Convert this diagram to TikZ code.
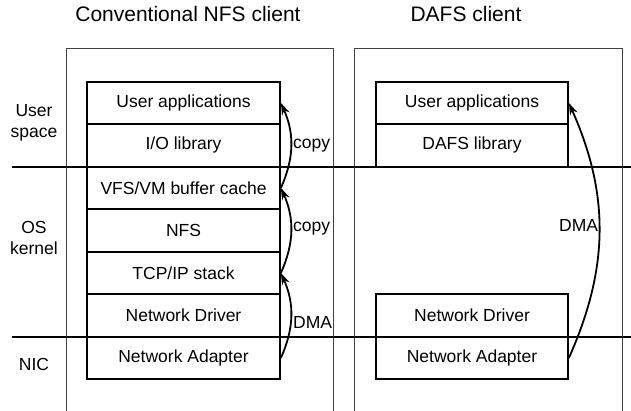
\documentclass[tikz,border=0pt]{standalone}
\usepackage{fontspec}
\setmainfont{Liberation Sans}
\usetikzlibrary{arrows.meta}
\begin{document}
\begin{tikzpicture}[x=1pt,y=-1pt,
  layer/.style={draw=black, line width=1.8pt, minimum width=193pt, minimum height=42.5pt,
    inner sep=0pt, font=\fontsize{17.5}{21}\selectfont},
  panel/.style={draw=black!75, line width=0.9pt},
  sep/.style={draw=black, line width=2pt},
  side/.style={font=\fontsize{17.5}{21}\selectfont, align=center, inner sep=0pt},
  head/.style={font=\fontsize{21}{25}\selectfont, inner sep=0pt, anchor=base},
  lbl/.style={font=\fontsize{17.5}{21}\selectfont, inner sep=0pt, anchor=base west},
  arr/.style={line width=1.8pt, -{Stealth[length=12pt,width=8pt]}}]
\useasboundingbox (0,0) rectangle (631,411);
\fill[white] (0,0) rectangle (631,411);
% panels
\draw[panel] (66,412) -- (66,48) -- (333,48) -- (333,412);
\draw[panel] (354,412) -- (354,48) -- (622,48) -- (622,412);
% headers
\node[head] (h1) at (188,22) {Conventional NFS client};
\node[head] (h2) at (466,22) {DAFS client};
% side labels
\node[side] (us) at (34,123) {User\\space};
\node[side] (os) at (34,238) {OS\\kernel};
\node[side] (nic) at (34,364) {NIC};
% left stack
\node[layer] (ua)  at (183.5,102.95) {User applications};
\node[layer] (io)  at (183.5,145.45) {I/O library};
\node[layer] (vfs) at (183.5,187.95) {VFS/VM buffer cache};
\node[layer] (nfs) at (183.5,230.45) {NFS};
\node[layer] (tcp) at (183.5,272.95) {TCP/IP stack};
\node[layer] (nd)  at (183.5,315.45) {Network Driver};
\node[layer] (na)  at (183.5,357.95) {Network Adapter};
% right stack
\node[layer, minimum width=192pt] (ua2) at (472,102.95) {User applications};
\node[layer, minimum width=192pt] (dl)  at (472,145.45) {DAFS library};
\node[layer, minimum width=192pt] (nd2) at (472,315.45) {Network Driver};
\node[layer, minimum width=192pt] (na2) at (472,357.95) {Network Adapter};
% separators
\draw[sep] (12,166.7) -- (631,166.7);
\draw[sep] (12,336.7) -- (631,336.7);
% arrows
\draw[arr] (vfs.east) to[bend right=24] (ua.east);
\draw[arr] (tcp.east) to[bend right=24] (vfs.east);
\draw[arr] (na.east) to[bend right=24] (tcp.east);
\draw[arr] (na2.east) to[bend right=24] (ua2.east);
% labels
\node[lbl] (c1) at (293,148.3) {copy};
\node[lbl] (c2) at (293,231.7) {copy};
\node[lbl] (d1) at (293,328) {DMA};
\node[lbl] (d2) at (559,232) {DMA};
\end{tikzpicture}
\end{document}
